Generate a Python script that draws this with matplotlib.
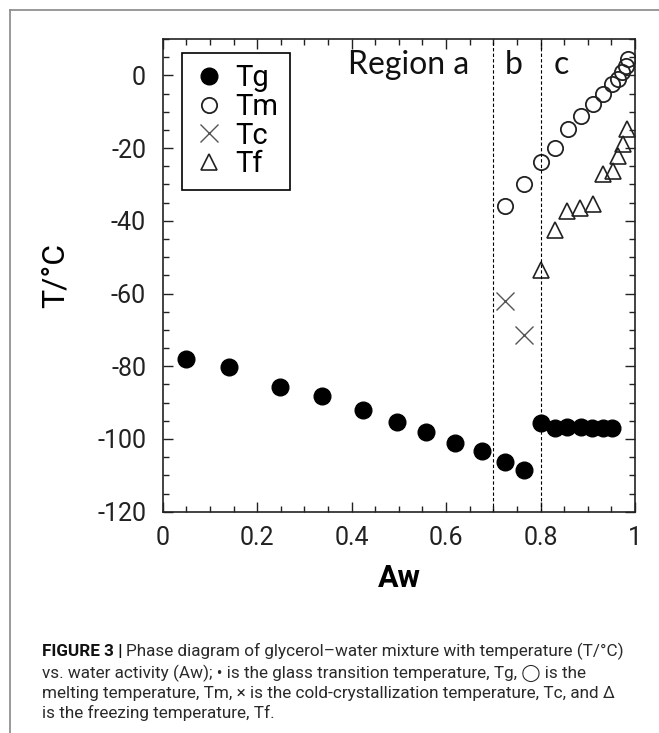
import matplotlib
matplotlib.use('Agg')
import matplotlib.pyplot as plt
from matplotlib.lines import Line2D
from matplotlib.ticker import MultipleLocator, FixedLocator, FixedFormatter
import matplotlib.transforms as mtransforms

# Data (Aw, T/°C)
tg_aw = [0.049, 0.140, 0.249, 0.338, 0.425, 0.497, 0.558, 0.619, 0.675, 0.725, 0.765,
         0.800, 0.831, 0.856, 0.885, 0.909, 0.932, 0.952]
tg_temp = [-78.1, -80.1, -85.7, -88.3, -92.0, -95.2, -98.0, -101.2, -103.4, -106.3, -108.5,
           -95.7, -97.1, -96.6, -96.6, -97.1, -97.1, -97.1]

tm_aw = [0.725, 0.765, 0.801, 0.831, 0.858, 0.886, 0.911, 0.933, 0.952, 0.964, 0.973, 0.982, 0.986]
tm_temp = [-35.9, -29.8, -23.8, -19.9, -14.7, -11.3, -8.0, -5.1, -2.3, -0.9, 0.8, 2.6, 4.6]

tc_aw = [0.725, 0.764]
tc_temp = [-62.1, -71.5]

tf_aw = [0.801, 0.831, 0.857, 0.884, 0.911, 0.932, 0.953, 0.964, 0.975, 0.984]
tf_temp = [-53.6, -42.4, -37.4, -36.6, -35.3, -27.0, -26.2, -22.3, -18.8, -14.7]

region_edges = [0.7, 0.8]
region_labels = ['Region a', 'b', 'c']
region_label_x = [0.521, 0.744, 0.844]

xtick_values = [0, 0.2, 0.4, 0.6, 0.8, 1.0]
xtick_labels = ['0', '0.2', '0.4', '0.6', '0.8', '1']
ytick_values = [-120, -100, -80, -60, -40, -20, 0]

caption_bold = 'FIGURE 3 |'
caption_lines = [
    'Phase diagram of glycerol\u2013water mixture with temperature (T/\u00b0C)',
    'vs. water activity (Aw); \u2022 is the glass transition temperature, Tg, \u25ef is the',
    'melting temperature, Tm, \u00d7 is the cold-crystallization temperature, Tc, and \u0394',
    'is the freezing temperature, Tf.',
]

NARROW = ['Roboto', 'DejaVu Sans']
plt.rcParams['font.family'] = NARROW
plt.rcParams['axes.unicode_minus'] = False

W, H = 659, 733
fig = plt.figure(figsize=(W / 100, H / 100), dpi=100)

# axes box in pixel positions of the reference
left, right, top, bottom = 162.7, 635.0, 39.0, 511.7
ax = fig.add_axes([left / W, 1 - bottom / H, (right - left) / W, (bottom - top) / H])

ax.plot(tg_aw, tg_temp, linestyle='none', marker='o', markersize=12,
        color='black', label='Tg')
ax.plot(tm_aw, tm_temp, linestyle='none', marker='o', markersize=11,
        markerfacecolor='none', markeredgecolor='#222222', markeredgewidth=1.3, label='Tm')
ax.plot(tc_aw, tc_temp, linestyle='none', marker='x', markersize=13,
        color='#555555', markeredgewidth=1.0, label='Tc')
ax.plot(tf_aw, tf_temp, linestyle='none', marker='^', markersize=11,
        markerfacecolor='none', markeredgecolor='#222222', markeredgewidth=1.2, label='Tf')

for edge in region_edges:
    ax.axvline(edge, color='black', linewidth=0.8, linestyle=(0, (3, 2)))

trans = mtransforms.blended_transform_factory(ax.transData, ax.transAxes)
for label, xpos in zip(region_labels, region_label_x):
    ax.text(xpos, 0.945, label, transform=trans, ha='center', va='center',
            fontsize=23, family=['Lato', 'DejaVu Sans'], color='#111111')

ax.set_xlim(0, 1)
ax.set_ylim(-120, 10)
ax.xaxis.set_major_locator(FixedLocator(xtick_values))
ax.xaxis.set_major_formatter(FixedFormatter(xtick_labels))
ax.xaxis.set_minor_locator(MultipleLocator(0.05))
ax.yaxis.set_major_locator(FixedLocator(ytick_values))
ax.yaxis.set_minor_locator(MultipleLocator(5))
ax.tick_params(which='both', direction='in', top=True, right=True, width=1.0, color='#222222')
ax.tick_params(which='major', length=7)
ax.tick_params(which='minor', length=4)
ax.tick_params(axis='y', which='major', labelsize=18, pad=12, labelcolor='#222222')
ax.tick_params(axis='x', which='major', labelsize=18, pad=10, labelcolor='#222222')
for spine in ax.spines.values():
    spine.set_linewidth(1.2)
    spine.set_color('#222222')

ax.set_xlabel('Aw', fontsize=22, fontweight='bold')
ax.xaxis.label.set_va('center')
ax.xaxis.set_label_coords(0.5, (bottom - 578) / (bottom - top))
ax.set_ylabel('T/\u00b0C', fontsize=23)
ax.yaxis.label.set_va('center')
ax.yaxis.set_label_coords((55 - left) / (right - left), 0.5)

leg = ax.legend(loc='upper left', bbox_to_anchor=(0.040, 0.971), borderaxespad=0,
                fontsize=21, frameon=True, fancybox=False, framealpha=1,
                edgecolor='black', handlelength=1.1, handletextpad=0.35,
                labelspacing=0.02, borderpad=0.4)
leg.get_frame().set_linewidth(1.2)

# figure border (top and left edges visible)
fig.add_artist(Line2D([10 / W, 10 / W], [0, 1 - 10 / H], color='#888888', linewidth=1.2))
fig.add_artist(Line2D([10 / W, 1], [1 - 10 / H, 1 - 10 / H], color='#888888', linewidth=1.2))

# caption, font size fitted so the longest line spans the reference width
cap_font = ['Roboto', 'DejaVu Sans']
renderer = fig.canvas.get_renderer()
probe = fig.text(0, 0, caption_lines[2], fontsize=12, family=cap_font)
probe_w = probe.get_window_extent(renderer).width
probe.remove()
cap_size = 12 * (616 - 42) / probe_w

line_y = [650, 672, 692, 712]
bold = fig.text(42 / W, 1 - (line_y[0] + 6) / H, caption_bold, fontsize=cap_size,
                fontweight='bold', family=cap_font, va='baseline', color='#111111')
bb = bold.get_window_extent(renderer)
fig.text((bb.x1 + 4) / W, 1 - (line_y[0] + 6) / H, caption_lines[0], fontsize=cap_size,
         family=cap_font, va='baseline', color='#2a2a2a')
for text, y in zip(caption_lines[1:], line_y[1:]):
    fig.text(42 / W, 1 - (y + 6) / H, text, fontsize=cap_size, family=cap_font,
             va='baseline', color='#2a2a2a')

fig.savefig('out.png', dpi=100)
